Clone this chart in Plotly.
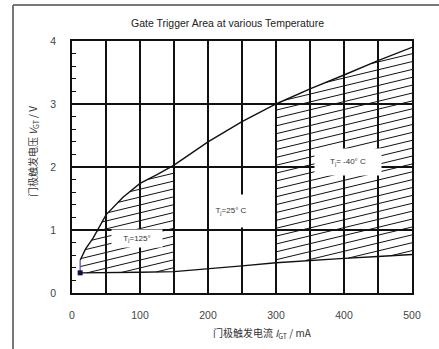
import numpy as np
import plotly.graph_objects as go

# ---- data ----
upper_x = [12, 20, 31, 50, 75, 100, 125, 150, 200, 250, 300, 350, 400, 450, 500]
upper_v = [0.52, 0.70, 0.87, 1.24, 1.52, 1.74, 1.88, 2.03, 2.40, 2.72, 3.00, 3.24, 3.46, 3.69, 3.90]
lower_x = [12, 50, 100, 150, 200, 250, 300, 350, 400, 450, 500]
lower_v = [0.32, 0.32, 0.33, 0.34, 0.38, 0.43, 0.48, 0.52, 0.55, 0.58, 0.61]
dot_x, dot_v = 12, 0.32
hatch_regions = [(12, 150), (300, 500)]
x_tick_step = 100
y_tick_step = 1
labels = [
    ("T<sub>j</sub>=125°", 95, 0.86, 50, 17),
    ("T<sub>j</sub>=25° C", 234, 1.30, 42, 32),
    ("T<sub>j</sub>= -40° C", 406, 2.08, 66, 26),
]

HATCH_SLOPE = 0.0026
HATCH_GAP = 0.125
INK = "#111111"

fig = go.Figure()

# hatch lines derived from the curves
hx, hy = [], []
for a, b in hatch_regions:
    xs = np.arange(a, b + 0.25, 0.25)
    L = np.interp(xs, lower_x, lower_v)
    U = np.interp(xs, upper_x, upper_v)
    off = HATCH_SLOPE * (xs - a)
    cmin = np.min(L - off)
    cmax = np.max(U - off)
    c = cmin + HATCH_GAP * 0.5
    while c < cmax:
        line = c + off
        m = (line >= L) & (line <= U)
        if m.any():
            sel = xs[m]
            x0, x1 = sel.min(), sel.max()
            hx += [x0, x1, None]
            hy += [c + HATCH_SLOPE * (x0 - a), c + HATCH_SLOPE * (x1 - a), None]
        c += HATCH_GAP

fig.add_trace(go.Scatter(x=hx, y=hy, mode="lines", line=dict(color=INK, width=1),
                         hoverinfo="skip", showlegend=False))
fig.add_trace(go.Scatter(x=upper_x, y=upper_v, mode="lines", line=dict(color=INK, width=1.4),
                         showlegend=False))
fig.add_trace(go.Scatter(x=lower_x, y=lower_v, mode="lines", line=dict(color=INK, width=1.4),
                         showlegend=False))
fig.add_trace(go.Scatter(x=[dot_x, upper_x[0]], y=[dot_v, upper_v[0]], mode="lines",
                         line=dict(color="#5a5aaa", width=1.3), showlegend=False))
fig.add_trace(go.Scatter(x=[dot_x], y=[dot_v], mode="markers",
                         marker=dict(color="#101040", size=5, symbol="square"), showlegend=False))

for txt, lx, ly, w, h in labels:
    fig.add_annotation(x=lx, y=ly, xref="x", yref="y", text=txt, showarrow=False,
                       bgcolor="white", width=w, height=h, borderpad=0,
                       font=dict(family="Liberation Sans, Arial", size=8, color="#333"))

# texts
fig.add_annotation(x=(227 - 72) / 340, y=(293 - 23) / 252, xref="paper", yref="paper",
                   xanchor="center", yanchor="middle",
                   text="Gate Trigger Area at various Temperature", showarrow=False,
                   font=dict(family="Liberation Sans, Arial", size=10.5, color="#222"))
fig.add_annotation(x=(262 - 72) / 340, y=(293 - 333) / 252, xref="paper", yref="paper",
                   xanchor="center", yanchor="middle",
                   text="门极触发电流 <i>I</i><sub>GT</sub> / mA", showarrow=False,
                   font=dict(family="Noto Sans CJK SC", size=10, color="#333"))
fig.add_annotation(x=(33 - 72) / 340, y=(293 - 152) / 252, xref="paper", yref="paper",
                   xanchor="center", yanchor="middle",
                   text="门极触发电压 <i>V</i><sub>GT</sub> / V", showarrow=False, textangle=-90,
                   font=dict(family="Noto Sans CJK SC", size=10, color="#333"))

# outer frame (left and top edges)
fig.add_shape(type="line", xref="paper", yref="paper", x0=(13 - 72) / 340, x1=(13 - 72) / 340,
              y0=(293 - 5) / 252, y1=(293 - 352) / 252, line=dict(color="#777", width=2))
fig.add_shape(type="line", xref="paper", yref="paper", x0=(13 - 72) / 340, x1=(445 - 72) / 340,
              y0=(293 - 5) / 252, y1=(293 - 5) / 252, line=dict(color="#777", width=2))

fig.update_xaxes(range=[0, 500], tick0=0, dtick=x_tick_step, ticks="", showgrid=True,
                 gridcolor=INK, gridwidth=1.5,
                 minor=dict(dtick=x_tick_step / 2, showgrid=True, gridcolor=INK, gridwidth=1.5),
                 showline=True, mirror=True, linecolor=INK, linewidth=1.6, zeroline=False,
                 ticklabelstandoff=12,
                 tickfont=dict(family="Liberation Sans, Arial", size=10.5, color="#444"))
fig.update_yaxes(range=[0, 4], tick0=0, dtick=y_tick_step, ticks="", showgrid=True,
                 gridcolor=INK, gridwidth=1.5,
                 minor=dict(dtick=0.2, ticks="inside", ticklen=4, tickcolor=INK,
                            tickwidth=1.3, showgrid=False),
                 showline=True, mirror=True, linecolor=INK, linewidth=1.6, zeroline=False,
                 ticklabelstandoff=12,
                 tickfont=dict(family="Liberation Sans, Arial", size=10.5, color="#444"))

fig.update_layout(width=439, height=349, margin=dict(l=72, r=27, t=41, b=56),
                  plot_bgcolor="white", paper_bgcolor="white", showlegend=False)

fig.write_html("out.html")
